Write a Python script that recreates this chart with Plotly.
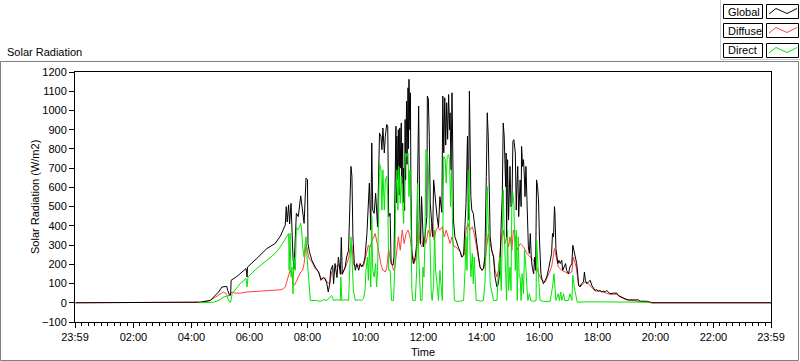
import plotly.graph_objects as go

# ---------------- data (minutes after midnight, W/m2) ----------------
global_min = [0, 258, 279, 286, 296, 303, 313, 315, 319, 321, 322, 334, 348, 353, 355, 356, 375, 396, 413, 424,
              434, 436, 438, 441, 443, 446, 450, 452, 457, 461, 466, 470, 473, 477, 480, 481, 484, 489, 496, 503,
              508, 513, 517, 520, 523, 526, 528, 532, 534, 537, 541, 544, 548, 550, 552, 558, 561, 565, 568, 570,
              572, 574, 577, 579, 582, 586, 589, 592, 596, 599, 603, 606, 608, 611, 613, 615, 618, 621, 623, 625,
              629, 632, 634, 636, 639, 641, 644, 646, 648, 651, 653, 657, 659, 661, 663, 664, 665, 667, 668, 670,
              671, 672, 674, 675, 677, 678, 679, 681, 682, 683, 685, 686, 688, 689, 690, 692, 693, 694, 696, 699,
              703, 706, 708, 710, 712, 714, 716, 720, 723, 727, 728, 730, 732, 734, 737, 739, 741, 744, 748, 751,
              754, 758, 760, 762, 764, 766, 768, 770, 772, 774, 775, 777, 779, 781, 782, 785, 789, 792, 796, 799,
              803, 806, 808, 811, 813, 815, 817, 818, 820, 823, 827, 830, 834, 837, 841, 844, 847, 850, 852, 854,
              856, 858, 861, 865, 868, 872, 875, 878, 881, 883, 885, 887, 890, 891, 892, 894, 896, 899, 901, 903,
              905, 907, 910, 912, 913, 915, 917, 920, 922, 923, 925, 927, 929, 930, 932, 934, 936, 937, 939, 941,
              943, 945, 948, 950, 952, 954, 956, 958, 960, 961, 963, 965, 968, 972, 975, 979, 982, 985, 987, 989,
              991, 992, 994, 996, 998, 1000, 1003, 1006, 1008, 1011, 1014, 1016, 1020, 1023, 1027, 1029, 1032, 1034, 1037, 1039,
              1041, 1044, 1047, 1051, 1053, 1055, 1058, 1061, 1065, 1068, 1072, 1075, 1078, 1082, 1085, 1089, 1092, 1096, 1099, 1103,
              1106, 1113, 1120, 1123, 1127, 1130, 1137, 1144, 1154, 1165, 1168, 1182, 1190, 1192, 1439]
global_val = [0, 3, 12, 29, 56, 82, 85, 64, 38, 40, 117, 137, 165, 178, 134, 186, 230, 282, 308, 347,
              404, 500, 420, 509, 410, 517, 238, 175, 465, 448, 556, 482, 413, 648, 640, 308, 265, 221, 186, 160,
              117, 131, 125, 99, 56, 99, 169, 195, 99, 204, 131, 238, 148, 340, 148, 186, 238, 273, 517, 709,
              657, 343, 204, 169, 204, 169, 204, 186, 204, 238, 360, 482, 622, 378, 831, 482, 465, 570, 482, 395,
              883, 866, 796, 909, 779, 866, 927, 918, 448, 465, 204, 195, 238, 560, 918, 520, 866, 640, 900, 560,
              909, 700, 935, 620, 830, 520, 700, 480, 953, 640, 1049, 720, 1118, 800, 1162, 900, 1092, 600, 256, 204,
              238, 308, 650, 1023, 517, 308, 552, 291, 343, 448, 1075, 1060, 866, 517, 413, 343, 639, 552, 448, 395,
              552, 470, 1075, 780, 1066, 820, 1040, 850, 1083, 900, 988, 691, 1092, 700, 430, 343, 308, 291, 265, 238,
              248, 378, 517, 866, 430, 1101, 700, 552, 482, 465, 378, 308, 238, 186, 169, 178, 238, 657, 988, 866,
              657, 343, 273, 238, 134, 82, 99, 169, 430, 552, 935, 866, 604, 779, 343, 744, 430, 709, 500, 517,
              839, 848, 779, 482, 587, 709, 448, 639, 500, 813, 709, 744, 639, 552, 709, 483, 413, 291, 256, 360,
              238, 186, 151, 238, 169, 639, 604, 535, 326, 204, 151, 125, 99, 117, 134, 178, 221, 256, 360, 343,
              500, 465, 282, 238, 204, 221, 204, 221, 169, 186, 204, 169, 151, 186, 204, 299, 265, 238, 204, 151,
              91, 82, 99, 108, 160, 117, 99, 108, 117, 91, 73, 64, 68, 61, 64, 56, 61, 56, 64, 56,
              47, 50, 50, 38, 33, 26, 21, 15, 15, 15, 8, 8, 3, 0, 0]

diffuse_min = [0, 258, 279, 289, 299, 306, 312, 315, 319, 324, 330, 341, 355, 375, 396, 413, 427, 434, 437, 441,
               444, 448, 450, 453, 457, 461, 466, 470, 473, 477, 480, 482, 486, 489, 496, 503, 508, 513, 520, 526,
               530, 537, 544, 551, 558, 565, 568, 572, 575, 582, 589, 596, 601, 606, 610, 613, 617, 620, 625, 629,
               632, 636, 641, 644, 648, 651, 658, 661, 663, 668, 672, 676, 680, 684, 688, 692, 696, 701, 705, 709,
               713, 717, 721, 725, 730, 734, 738, 742, 746, 750, 754, 759, 763, 767, 771, 775, 779, 783, 787, 792,
               796, 800, 804, 808, 812, 816, 821, 825, 829, 833, 837, 841, 845, 850, 854, 858, 861, 865, 868, 872,
               875, 878, 882, 885, 889, 892, 896, 899, 903, 906, 910, 913, 916, 920, 927, 934, 941, 948, 951, 954,
               958, 961, 965, 972, 979, 985, 991, 994, 999, 1006, 1013, 1020, 1027, 1030, 1036, 1041, 1047, 1054, 1061, 1068,
               1075, 1085, 1096, 1106, 1120, 1127, 1140, 1168, 1190, 1192, 1439]
diffuse_val = [0, 3, 12, 29, 43, 56, 47, 33, 43, 56, 50, 50, 56, 59, 61, 64, 68, 82, 108, 152,
               169, 148, 99, 91, 117, 134, 160, 169, 204, 308, 273, 238, 221, 213, 178, 160, 125, 131, 108, 99,
               160, 180, 200, 150, 180, 230, 280, 300, 200, 190, 195, 190, 240, 300, 290, 320, 340, 360, 300, 250,
               200, 170, 160, 180, 280, 230, 169, 186, 238, 343, 273, 378, 308, 360, 378, 343, 273, 204, 238, 413,
               308, 291, 343, 308, 378, 343, 413, 326, 378, 395, 378, 395, 343, 378, 343, 308, 343, 291, 291, 273,
               265, 238, 247, 378, 413, 378, 395, 360, 308, 238, 186, 169, 178, 273, 360, 308, 273, 238, 169, 134,
               169, 238, 360, 378, 308, 343, 291, 343, 273, 378, 343, 273, 291, 308, 291, 256, 238, 221, 204, 186,
               151, 134, 117, 108, 151, 186, 282, 238, 186, 169, 160, 151, 160, 238, 186, 91, 91, 108, 99, 82,
               61, 61, 52, 44, 44, 30, 15, 7, 2, 0, 0]

direct_min = [255, 279, 286, 299, 306, 313, 317, 319, 321, 324, 341, 353, 355, 357, 375, 396, 413, 424, 434, 441,
              442, 444, 446, 448, 450, 452, 455, 457, 459, 464, 466, 468, 470, 473, 475, 477, 479, 481, 483, 486,
              499, 506, 513, 520, 527, 530, 534, 541, 548, 549, 551, 558, 565, 568, 570, 572, 575, 579, 586, 592,
              596, 599, 601, 604, 606, 608, 611, 613, 615, 618, 621, 623, 625, 629, 632, 634, 636, 639, 641, 644,
              646, 648, 651, 654, 658, 661, 662, 665, 667, 669, 672, 674, 676, 679, 681, 683, 685, 688, 690, 692,
              694, 696, 698, 703, 706, 708, 710, 712, 714, 717, 719, 721, 723, 725, 728, 730, 732, 734, 736, 738,
              741, 743, 745, 748, 751, 754, 756, 759, 760, 762, 765, 767, 769, 772, 774, 776, 778, 780, 782, 784,
              789, 796, 803, 806, 808, 810, 812, 814, 816, 818, 821, 823, 825, 827, 829, 834, 837, 844, 847, 850,
              852, 854, 856, 858, 861, 865, 872, 875, 878, 881, 883, 885, 887, 890, 892, 894, 896, 899, 901, 903,
              905, 907, 910, 912, 914, 916, 918, 920, 922, 924, 927, 929, 931, 934, 936, 939, 942, 948, 953, 954,
              956, 959, 961, 968, 982, 987, 990, 992, 994, 999, 1001, 1004, 1006, 1010, 1012, 1020, 1023, 1027, 1029, 1032,
              1036, 1038, 1058, 1092, 1127, 1189]
direct_val = [0, 0, 3, 15, 29, 35, 12, 3, 3, 47, 100, 126, 82, 134, 178, 221, 256, 291, 334, 360,
              169, 360, 134, 186, 47, 238, 169, 395, 378, 395, 413, 378, 291, 238, 308, 343, 238, 169, 64, 12,
              12, 7, 16, 12, 30, 37, 12, 16, 12, 134, 12, 16, 12, 169, 343, 238, 64, 12, 16, 12,
              21, 64, 169, 238, 117, 291, 82, 448, 169, 134, 204, 82, 169, 726, 691, 482, 691, 482, 639, 657,
              552, 169, 169, 12, 12, 204, 517, 691, 482, 709, 517, 657, 517, 413, 657, 778, 761, 778, 552, 691,
              430, 64, 12, 12, 169, 622, 256, 134, 12, 12, 186, 134, 308, 796, 787, 691, 482, 238, 47, 12,
              99, 378, 169, 99, 12, 169, 99, 12, 378, 761, 744, 622, 761, 770, 744, 500, 691, 378, 169, 12,
              8, 8, 12, 169, 343, 169, 465, 691, 308, 134, 256, 99, 238, 82, 12, 12, 8, 12, 99, 308,
              604, 413, 308, 99, 64, 12, 12, 169, 238, 64, 343, 587, 378, 169, 12, 378, 64, 186, 64, 552,
              569, 517, 169, 378, 12, 343, 134, 134, 12, 151, 47, 273, 221, 82, 12, 47, 12, 7, 12, 326,
              221, 82, 12, 7, 7, 82, 151, 82, 12, 47, 12, 56, 12, 47, 12, 12, 47, 12, 143, 82,
              30, 3, 5, 5, 3, 3]

tick_vals = [-1, 120, 240, 360, 480, 600, 720, 840, 960, 1080, 1200, 1320, 1439]
tick_text = ["23:59", "02:00", "04:00", "06:00", "08:00", "10:00", "12:00",
             "14:00", "16:00", "18:00", "20:00", "22:00", "23:59"]
y_ticks = list(range(-100, 1201, 100))
series_names = ["Global", "Diffuse", "Direct"]
series_colors = ["#000000", "#ff4040", "#00e600"]

# ---------------- layout geometry (pixels) ----------------
W, H = 800, 361
L, R, T, B = 75, 29, 72, 39
PW, PH = W - L - R, H - T - B
FONT = "Liberation Sans"


def pxx(x):
    return (x - L) / PW


def pxy(y):
    return (H - B - y) / PH


fig = go.Figure()
# draw order: Diffuse, Global, Direct
fig.add_trace(go.Scatter(x=diffuse_min, y=diffuse_val, mode="lines", name=series_names[1],
                         line=dict(color=series_colors[1], width=1)))
fig.add_trace(go.Scatter(x=global_min, y=global_val, mode="lines", name=series_names[0],
                         line=dict(color=series_colors[0], width=1)))
fig.add_trace(go.Scatter(x=direct_min, y=direct_val, mode="lines", name=series_names[2],
                         line=dict(color=series_colors[2], width=1)))

shapes = []
annotations = []

# outer frame
shapes.append(dict(type="line", xref="paper", yref="paper", x0=pxx(0.5), x1=pxx(798.5),
                   y0=pxy(61.5), y1=pxy(61.5), line=dict(color="#808080", width=1)))
shapes.append(dict(type="line", xref="paper", yref="paper", x0=pxx(0.5), x1=pxx(0.5),
                   y0=pxy(61.5), y1=pxy(360.5), line=dict(color="#808080", width=1)))
shapes.append(dict(type="line", xref="paper", yref="paper", x0=pxx(798.5), x1=pxx(798.5),
                   y0=pxy(61.5), y1=pxy(360.5), line=dict(color="#808080", width=1)))
shapes.append(dict(type="line", xref="paper", yref="paper", x0=pxx(0.5), x1=pxx(798.5),
                   y0=pxy(360.5), y1=pxy(360.5), line=dict(color="#808080", width=1)))

# legend panel border
shapes.append(dict(type="line", xref="paper", yref="paper", x0=pxx(720.5), x1=pxx(720.5),
                   y0=pxy(0), y1=pxy(59.5), line=dict(color="#c8c8c8", width=1)))
shapes.append(dict(type="line", xref="paper", yref="paper", x0=pxx(720.5), x1=pxx(800),
                   y0=pxy(59.5), y1=pxy(59.5), line=dict(color="#c8c8c8", width=1)))

row_tops = [4, 23, 43]
for i, name in enumerate(series_names):
    yt = row_tops[i]
    shapes.append(dict(type="rect", xref="paper", yref="paper", x0=pxx(723.5), x1=pxx(762.5),
                       y0=pxy(yt + 0.5), y1=pxy(yt + 14.5), line=dict(color="#000000", width=1),
                       fillcolor="white"))
    shapes.append(dict(type="rect", xref="paper", yref="paper", x0=pxx(766.5), x1=pxx(798.5),
                       y0=pxy(yt + 0.5), y1=pxy(yt + 14.5), line=dict(color="#000000", width=1),
                       fillcolor="white"))
    pts = [(769, yt + 10), (776, yt + 4.5), (787, yt + 9.5), (797, yt + 4.5)]
    path = "M " + " L ".join(f"{pxx(a):.5f},{pxy(b):.5f}" for a, b in pts)
    shapes.append(dict(type="path", xref="paper", yref="paper", path=path,
                       line=dict(color=series_colors[i], width=1)))
    annotations.append(dict(text=name, xref="paper", yref="paper", x=pxx(725.5), y=pxy(yt + 7.5),
                            xanchor="left", yanchor="middle", showarrow=False,
                            font=dict(family=FONT, size=11, color="black")))

annotations.append(dict(text="Solar Radiation", xref="paper", yref="paper", x=pxx(5), y=pxy(52),
                        xanchor="left", yanchor="middle", showarrow=False,
                        font=dict(family=FONT, size=11, color="black")))
annotations.append(dict(text="Solar Radiation (W/m2)", xref="paper", yref="paper", x=pxx(35), y=pxy(197),
                        xanchor="center", yanchor="middle", textangle=-90, showarrow=False,
                        font=dict(family=FONT, size=11, color="black")))
annotations.append(dict(text="Time", xref="paper", yref="paper", x=pxx(423), y=pxy(352),
                        xanchor="center", yanchor="middle", showarrow=False,
                        font=dict(family=FONT, size=11, color="black")))

fig.update_layout(
    width=W, height=H, autosize=False,
    margin=dict(l=L, r=R, t=T, b=B, pad=0),
    paper_bgcolor="white", plot_bgcolor="white",
    showlegend=False,
    font=dict(family=FONT, size=11, color="black"),
    shapes=shapes, annotations=annotations,
    xaxis=dict(range=[-1, 1439], tickmode="array", tickvals=tick_vals, ticktext=tick_text,
               showgrid=False, zeroline=False, showline=True, mirror=True, linecolor="black", linewidth=1,
               ticks="outside", ticklen=5, tickcolor="black", tickwidth=1,
               minor=dict(ticks="outside", ticklen=3, tick0=0, dtick=120 / 9, tickcolor="black", showgrid=False),
               tickfont=dict(family=FONT, size=11)),
    yaxis=dict(range=[-100, 1200], tickmode="array", tickvals=y_ticks,
               showgrid=False, zeroline=False, showline=True, mirror=True, linecolor="black", linewidth=1,
               ticks="outside", ticklen=5, tickcolor="black", tickwidth=1,
               tickfont=dict(family=FONT, size=11)),
)

fig.write_html("out.html", config={"displayModeBar": False},
               post_script="document.body.style.margin='0';document.body.style.padding='0';")
